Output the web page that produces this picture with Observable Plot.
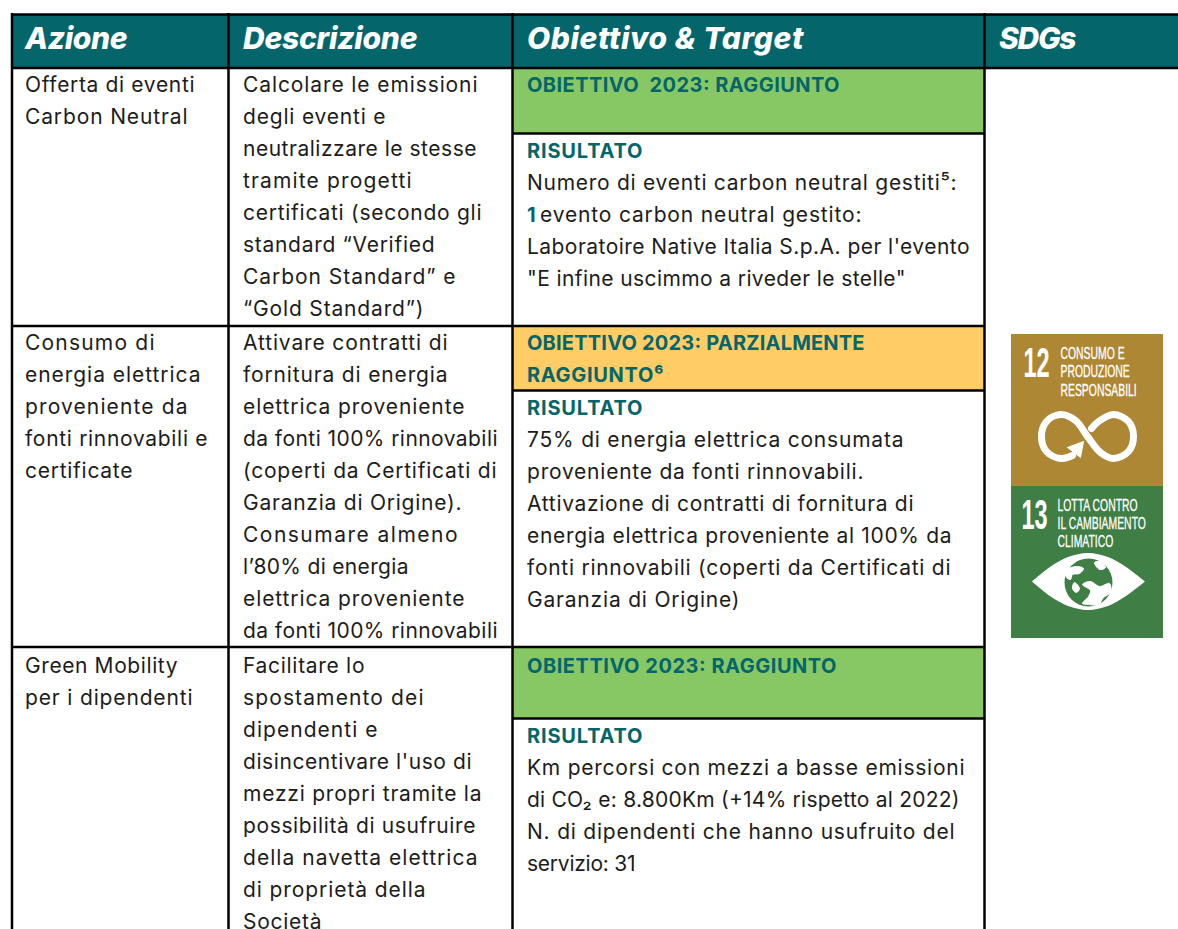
<!doctype html>
<html><head><meta charset="utf-8">
<script src="https://cdn.jsdelivr.net/npm/d3@7"></script>
<script src="https://cdn.jsdelivr.net/npm/@observablehq/plot@0.6"></script>
<style>html,body{margin:0;padding:0;background:#fff;overflow:hidden}svg{display:block}</style>
</head><body><div id="chart"></div>
<script>
const headers = ["Azione","Descrizione","Obiettivo & Target","SDGs"];
const azione = [
  ["Offerta di eventi","Carbon Neutral"],
  ["Consumo di","energia elettrica","proveniente da","fonti rinnovabili e","certificate"],
  ["Green Mobility","per i dipendenti"]
];
const descrizione = [
  ["Calcolare le emissioni","degli eventi e","neutralizzare le stesse","tramite progetti","certificati (secondo gli","standard “Verified","Carbon Standard” e","“Gold Standard”)"],
  ["Attivare contratti di","fornitura di energia","elettrica proveniente","da fonti 100% rinnovabili","(coperti da Certificati di","Garanzia di Origine).","Consumare almeno","l’80% di energia","elettrica proveniente","da fonti 100% rinnovabili"],
  ["Facilitare lo","spostamento dei","dipendenti e","disincentivare l'uso di","mezzi propri tramite la","possibilità di usufruire","della navetta elettrica","di proprietà della","Società"]
];
const obiettivi = [
  ["OBIETTIVO  2023: RAGGIUNTO"],
  ["OBIETTIVO 2023: PARZIALMENTE","RAGGIUNTO⁶"],
  ["OBIETTIVO 2023: RAGGIUNTO"]
];
const esitoColori = ["#88c864","#ffcc66","#88c864"];
const risultati = [
  ["Numero di eventi carbon neutral gestiti⁵:","evento carbon neutral gestito:","Laboratoire Native Italia S.p.A. per l'evento","\"E infine uscimmo a riveder le stelle\""],
  ["75% di energia elettrica consumata","proveniente da fonti rinnovabili.","Attivazione di contratti di fornitura di","energia elettrica proveniente al 100% da","fonti rinnovabili (coperti da Certificati di","Garanzia di Origine)"],
  ["Km percorsi con mezzi a basse emissioni","di CO₂ e: 8.800Km (+14% rispetto al 2022)","N. di dipendenti che hanno usufruito del","servizio: 31"]
];
const sdgNumeri = ["12","13"];
const sdgEtichette = [["CONSUMO E","PRODUZIONE","RESPONSABILI"],["LOTTA CONTRO","IL CAMBIAMENTO","CLIMATICO"]];
const sdgColori = ["#ae8734","#3f7e44"];

// layout (table grid, in page pixels)
const W = 1178, H = 929, teal = "#04666a", ink = "#1c1c1c", font = "Inter, 'Noto Sans', sans-serif";
const narrow = "'Liberation Sans Narrow','Liberation Sans',sans-serif";
const colX = [11.5, 228, 512, 984, 1178];
const textX = [24.5, 242.5, 526.5, 998.5];
const rowTop = [67.5, 325.5, 646.5, 940];
const rowFirst = [85, 343, 666];
const bandBottom = [133, 390, 718];
const resultY = [151, 408, 736];
const lineGap = 32;
// right ends of the set lines, so the substitute face fills the same measure
const headerEnd = [127, 417, 803, 1076];
const azioneEnd = [[194,187],[154,200,187,207,132],[177,192]];
const descrEnd = [[477,385,476,411,481,434,455,423],[447,447,464,497,496,461,457,408,464,497],[364,423,377,471,481,475,477,425,321]];
const risultatiEnd = [[956,861,969,905],[903,863,913,951,950,739],[964,959,954,635]];
const obiettiviEnd = [[839],[864,663],[836]];
const rows = [0,1,2];
const lines = [];
rows.forEach(r => {
  azione[r].forEach((s,i)=>lines.push({s, x:textX[0], y:rowFirst[r]+i*lineGap, end:azioneEnd[r][i]}));
  descrizione[r].forEach((s,i)=>lines.push({s, x:textX[1], y:rowFirst[r]+i*lineGap, end:descrEnd[r][i]}));
  risultati[r].forEach((s,i)=>lines.push({s, x:textX[2]+(r===0&&i===1?13:0), y:resultY[r]+(i+1)*lineGap, end:risultatiEnd[r][i]}));
});
const boldLines = [];
rows.forEach(r => {
  obiettivi[r].forEach((s,i)=>boldLines.push({s, x:textX[2], y:rowFirst[r]+i*lineGap, end:obiettiviEnd[r][i]}));
  boldLines.push({s:"RISULTATO", x:textX[2], y:resultY[r], end:642});
});
boldLines.push({s:"1", x:textX[2], y:resultY[0]+2*lineGap});

const hLines = [
  {x1:colX[0],x2:W,y:14},{x1:colX[0],x2:W,y:67.5},
  {x1:colX[0],x2:colX[3],y:rowTop[1]},{x1:colX[0],x2:colX[3],y:rowTop[2]},
  {x1:colX[2],x2:colX[3],y:bandBottom[0]},{x1:colX[2],x2:colX[3],y:bandBottom[1]},{x1:colX[2],x2:colX[3],y:bandBottom[2]}
];
const vLines = colX.slice(0,4).map(x=>({x}));

// SDG icons
const icoX = [1011,1163], icoY = [334,486,638];
const numAt = [{x:1023,y:363},{x:1021,y:515}];
const labelX = [1060,1057], labelY = [[353,371,390],[505,523,541]];
const iconText = sdgEtichette.flatMap((l,k)=>l.map((s,i)=>({s,x:labelX[k],y:labelY[k][i]})));
const infinito = [[1091,428],[1098,421],[1113,414],[1128,421],[1133,436],[1128,451],[1113,458],[1100,452],[1087,436],[1075,420],[1060,414],[1046,421],[1041,436],[1046,451],[1060,458],[1072,455]];
const freccia = [[1067,447],[1083,441],[1080,457],[1067,447]];
const occhioX = [1032,1050,1068,1088,1108,1126,1145], occhioTop = [581.5,567,557,553,557,567,581.5], occhioBot = [581.5,596,606,610,606,596,581.5];
const terre = [
  [[1066,570],[1075,566],[1083,568],[1079,573],[1072,574],[1070,579],[1066,577]],
  [[1082,584],[1090,581],[1099,586],[1109,583],[1110,592],[1103,597],[1098,604],[1088,604],[1082,603],[1088,596],[1090,590]],
  [[1094,562],[1100,561],[1105,567],[1099,569]],
  [[1074,582],[1079,588],[1076,592],[1072,588]]
].map((p,k)=>p.map(d=>({x:d[0],y:d[1],k})));

const P = a=>a.map(d=>({x:d[0],y:d[1]}));
const chart = Plot.plot({
  width:W, height:H, margin:0,
  x:{domain:[0,W],range:[0,W],axis:null},
  y:{domain:[0,H],range:[0,H],axis:null},
  style:{background:"#fff",fontFamily:font},
  marks:[
    Plot.rect([0],{x1:colX[0],x2:W,y1:14,y2:67.5,fill:teal}),
    Plot.rect(rows,{x1:colX[2],x2:colX[3],y1:r=>rowTop[r],y2:r=>bandBottom[r],fill:r=>esitoColori[r]}),
    Plot.ruleY(hLines,{x1:"x1",x2:"x2",y:"y",stroke:"#000",strokeWidth:2.5}),
    Plot.ruleX(vLines,{x:"x",y1:13,y2:H,stroke:"#000",strokeWidth:2.5}),
    Plot.text(headers,{x:(d,i)=>textX[i],y:38.5,text:d=>d,textAnchor:"start",fill:"#fff",fontSize:30,fontWeight:800,fontStyle:"italic",fontFamily:font}),
    Plot.text(lines,{x:"x",y:"y",text:"s",textAnchor:"start",fill:ink,fontSize:21,fontFamily:font}),
    Plot.text(boldLines,{x:"x",y:"y",text:"s",textAnchor:"start",fill:teal,fontSize:20,fontWeight:700,fontFamily:font}),
    // SDG icons
    Plot.rect([0,1],{x1:icoX[0],x2:icoX[1],y1:i=>icoY[i],y2:i=>icoY[i+1],fill:i=>sdgColori[i]}),
    Plot.text(sdgNumeri,{x:(d,i)=>numAt[i].x,y:(d,i)=>numAt[i].y,text:d=>d,textAnchor:"start",fill:"#fff",fontSize:42,fontWeight:700,fontFamily:narrow}),
    Plot.text(iconText,{x:"x",y:"y",text:"s",textAnchor:"start",fill:"#fff",stroke:"#fff",strokeWidth:0.3,fontSize:16.5,fontFamily:narrow}),
    Plot.line(P(infinito),{x:"x",y:"y",stroke:"#fff",strokeWidth:7,curve:"catmull-rom"}),
    Plot.line(P(freccia),{x:"x",y:"y",stroke:"#fff",fill:"#fff",strokeWidth:1}),
    Plot.areaY(occhioX.map((x,i)=>({x,y1:occhioTop[i],y2:occhioBot[i]})),{x:"x",y1:"y1",y2:"y2",fill:"#fff",curve:"catmull-rom"}),
    Plot.dot([0],{x:1088,y:582,r:24,fill:sdgColori[1]}),
    Plot.line(terre.flat(),{x:"x",y:"y",z:"k",stroke:"#fff",fill:"#fff",strokeWidth:1,curve:"catmull-rom-closed"})
  ]
});
document.getElementById("chart").append(chart);
const fit = (sel, width, adjust) => d3.select(chart).selectAll(sel).each(function(_, i){
  const w = width(this, i);
  if (w == null) return;
  this.setAttribute("lengthAdjust", adjust);
  this.setAttribute("textLength", w);
});
fit('g[font-size="30"] text', (_, i)=>headerEnd[i]-textX[i], "spacing");
fit('g[font-size="21"] text', (_, i)=>lines[i].end-lines[i].x, "spacing");
fit('g[font-size="20"] text', (_, i)=>boldLines[i].end ? boldLines[i].end-boldLines[i].x : null, "spacing");
// the SDG badges use a condensed face: squeeze the installed sans to that width
fit('g[font-size="42"] text', el=>el.getComputedTextLength()*0.56, "spacingAndGlyphs");
fit('g[font-size="16.5"] text', el=>el.getComputedTextLength()*0.63, "spacingAndGlyphs");
</script></body></html>
